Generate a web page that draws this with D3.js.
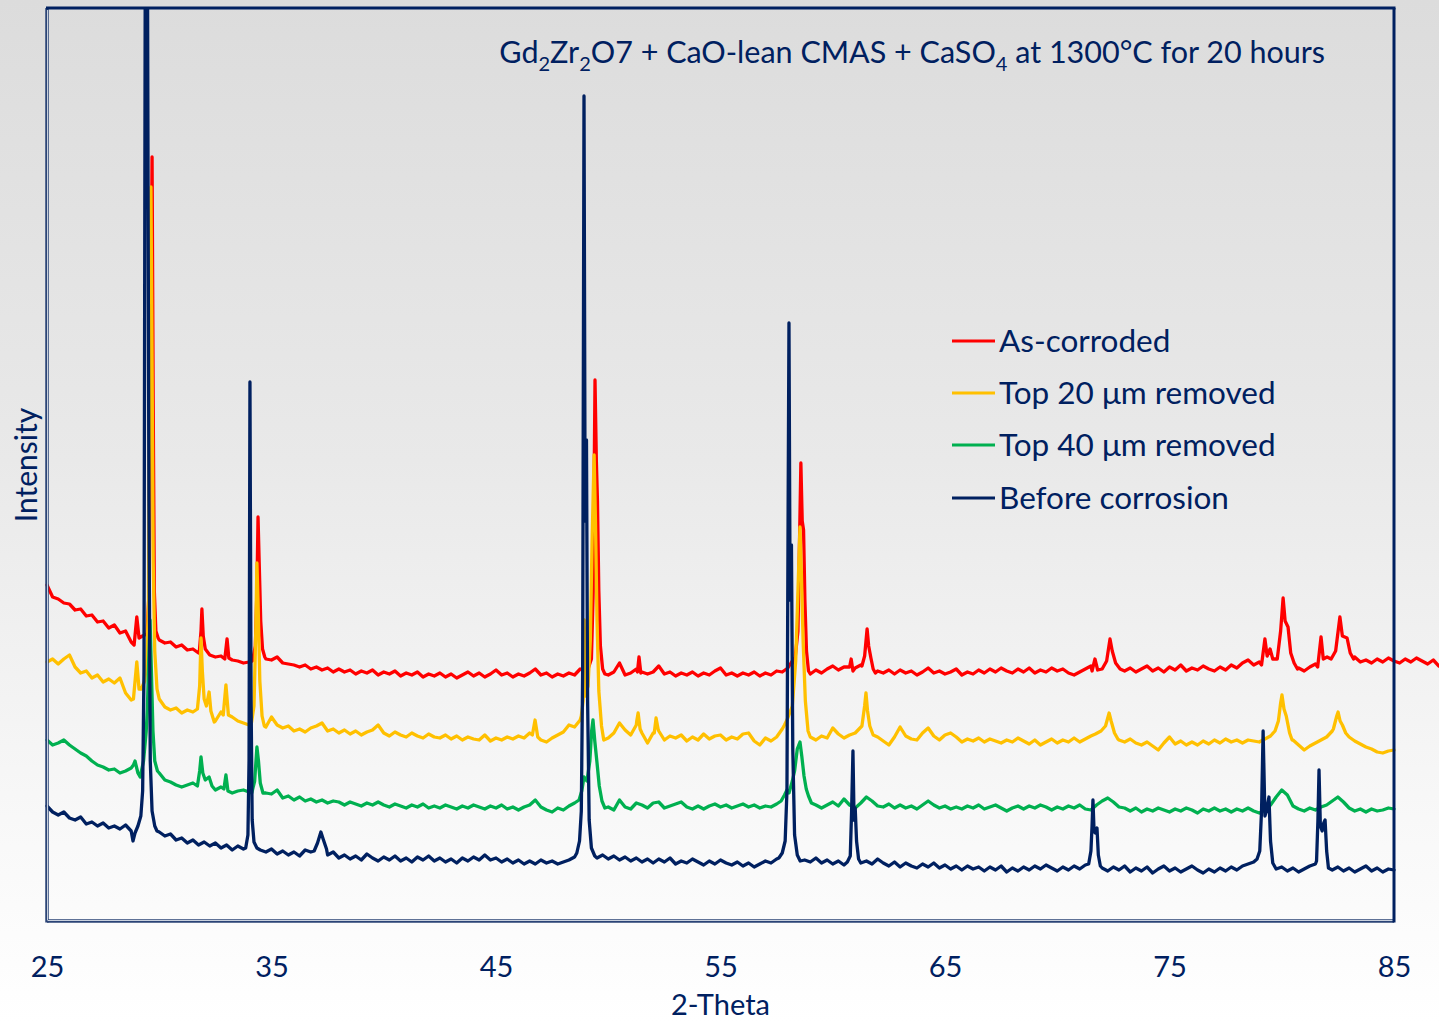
<!DOCTYPE html>
<html>
<head>
<meta charset="utf-8">
<script src="https://cdn.jsdelivr.net/npm/d3@7"></script>
<style>
  html, body { margin: 0; padding: 0; background: #ffffff; }
  svg { display: block; font-family: Lato, "Open Sans", sans-serif; }
</style>
</head>
<body>
<svg id="chart" width="1439" height="1022"></svg>
<script>
// ---- data -------------------------------------------------------------
// 2-theta tick labels
const xTicks = [25, 35, 45, 55, 65, 75, 85];
const seriesNames = ["As-corroded", "Top 20 \u03bcm removed", "Top 40 \u03bcm removed", "Before corrosion"];
const seriesColors = ["#ff0000", "#ffc000", "#00b050", "#002060"];

// background scans are sampled every 0.25 deg starting at 25 deg (intensity, a.u.)
const gridStart = 25, gridStep = 0.25;

const redBase = [
  336,324,322,318,317,311,312,305, 306,299,300,293,296,288,290,279,
  304,285,300,420,281,278,279,274, 276,271,272,268,276,266,264,265,
  282,261,260,258,259,270,295,262, 261,264,258,257,256,254,256,252,
  254,251,253,249,252,249,251,247, 250,248,251,246,249,247,250,245,
  248,246,249,244,247,245,248,244, 247,243,246,249,245,248,244,247,
  251,246,248,244,247,245,248,252, 246,248,244,247,245,248,246,252,
  251,262,400,252,246,249,258,246, 248,252,249,247,249,255,247,249,
  245,248,246,249,245,248,246,250, 253,246,248,245,248,246,249,245,
  248,246,250,249,253,262,350,300, 247,251,248,252,255,251,254,254,
  253,256,285,258,250,248,251,247, 251,248,250,246,249,253,248,250,
  247,249,252,246,249,247,251,248, 252,249,253,250,248,252,249,253,
  248,251,249,253,250,252,248,246, 249,252,255,255,252,265,262,253,
  250,253,249,252,255,250,253,249, 254,251,256,250,253,251,255,252,
  250,254,251,256,253,258,261,256, 259,282,270,262,315,296,262,253,
  250,254,257,284,264,262,285,284, 270,264,259,261,258,262,259,263,
  260,258,262,259,263,260,257,261, 255
];
// diffraction peaks: [2-theta, intensity]
const redPeaks = [
  [[28.88,276],[29.0,304],[29.1,283]],
  [[29.45,287],[29.55,330],[29.62,560],[29.68,764],[29.73,520],[29.78,330],[29.85,290],[29.95,283]],
  [[31.78,268],[31.86,290],[31.9,312],[31.96,285],[32.05,272]],
  [[32.92,262],[33.02,282],[33.1,263]],
  [[34.15,260],[34.28,275],[34.35,330],[34.4,404],[34.45,360],[34.52,300],[34.6,272],[34.7,264]],
  [[49.1,252],[49.25,262],[49.33,330],[49.41,541],[49.47,460],[49.52,420],[49.58,330],[49.65,275],[49.75,252],[49.85,247]],
  [[51.3,249],[51.37,264],[51.45,248]],
  [[58.3,258],[58.45,290],[58.52,380],[58.58,458],[58.64,400],[58.7,391],[58.76,320],[58.83,270],[58.92,250],[59.0,247]],
  [[60.75,254],[60.82,262],[60.9,250]],
  [[61.3,255],[61.42,265],[61.53,292],[61.6,275],[61.7,263],[61.8,252],[61.9,248]],
  [[71.55,250],[71.68,262],[71.8,251],[72.0,252],[72.2,260],[72.35,282],[72.45,270],[72.6,258],[72.8,252]],
  [[79.1,256],[79.25,282],[79.35,265],[79.48,272],[79.6,262],[79.8,262],[79.95,290],[80.06,323],[80.15,300],[80.28,294],[80.4,268],[80.55,258],[80.7,252]],
  [[81.6,254],[81.75,284],[81.85,262],[82.02,264],[82.2,262],[82.4,270],[82.59,304],[82.7,285],[82.91,283],[83.05,268],[83.2,262]]
];

const yellowBase = [
  259,262,257,262,266,254,248,250, 243,246,239,242,238,243,228,221,
  259,240,600,270,222,214,211,213, 208,211,209,235,222,229,200,209,
  206,204,200,198,196,215,240,194, 204,196,193,195,190,192,189,193,
  195,198,190,192,188,191,187,190, 186,189,191,196,188,185,189,186,
  184,188,185,183,187,184,183,186, 182,185,181,184,182,181,186,180,
  183,181,184,182,185,183,188,195, 181,179,183,186,189,196,194,201,
  225,290,300,195,183,188,198,191, 186,196,188,178,188,190,181,185,
  183,186,180,184,181,187,182,185, 186,181,184,182,187,188,180,176,
  183,180,184,192,205,260,330,220, 184,181,185,183,193,187,183,186,
  188,195,215,195,184,180,176,184, 194,185,182,181,188,193,185,181,
  186,188,184,179,182,180,183,179, 182,180,178,181,179,183,180,177,
  181,176,179,182,178,181,179,183, 179,182,185,187,190,200,195,181,
  179,182,178,176,179,175,171,178, 184,177,180,176,179,176,180,177,
  181,178,182,179,181,178,181,180, 179,182,185,190,222,206,181,176,
  171,175,178,181,184,190,205,196, 184,180,177,174,172,169,168,170,
  171
];
const yellowPeaks = [
  [[28.85,222],[29.0,259],[29.1,232],[29.2,232],[29.35,240],[29.45,262],[29.52,320],[29.58,600],[29.63,734],[29.68,560],[29.73,360],[29.8,270],[29.9,232],[30.0,222]],
  [[31.7,212],[31.8,235],[31.86,283],[31.92,250],[32.0,222],[32.1,215],[32.22,229],[32.3,210],[32.45,199]],
  [[32.85,206],[32.97,236],[33.08,206]],
  [[34.1,197],[34.22,215],[34.3,290],[34.35,358],[34.4,320],[34.48,240],[34.58,205],[34.68,195]],
  [[46.62,186],[46.74,201],[46.86,184]],
  [[48.8,205],[48.88,220],[48.93,301],[48.98,225],[49.1,235],[49.2,280],[49.28,380],[49.37,466],[49.43,400],[49.5,300],[49.58,230],[49.7,195],[49.8,181]],
  [[51.27,200],[51.33,208],[51.42,192]],
  [[52.05,188],[52.13,203],[52.22,192]],
  [[57.85,196],[57.98,202],[58.2,215],[58.35,260],[58.45,330],[58.54,394],[58.6,350],[58.68,280],[58.78,220],[58.9,190],[59.0,184]],
  [[61.0,188],[61.3,195],[61.42,215],[61.48,228],[61.55,210],[61.65,195],[61.8,186]],
  [[71.7,187],[71.95,190],[72.15,195],[72.31,208],[72.4,200],[72.55,188],[72.7,182]],
  [[79.7,190],[79.85,200],[79.95,218],[80.01,226],[80.1,212],[80.2,205],[80.35,188],[80.46,181]],
  [[82.3,192],[82.45,205],[82.51,209],[82.6,200],[82.7,196],[82.85,188],[83.0,184]]
];

const greenBase = [
  181,176,178,181,176,172,168,165, 160,156,154,151,152,148,150,153,
  150,170,280,170,148,141,139,136, 134,136,138,138,141,140,131,134,
  146,128,130,131,129,135,138,128, 127,131,123,125,121,124,120,122,
  119,121,118,120,119,116,119,117, 115,118,116,119,116,114,117,115,
  113,116,114,117,113,115,113,116, 114,112,115,113,116,114,112,115,
  113,116,112,114,111,114,116,121, 114,111,109,113,111,115,118,122,
  142,185,170,122,114,111,121,114, 112,118,116,113,118,119,113,115,
  117,119,114,112,115,112,115,117, 114,116,113,115,117,114,116,113,
  115,114,117,122,128,145,175,140, 118,116,113,116,119,115,122,116,
  113,118,124,120,115,114,117,113, 116,113,115,112,116,120,116,113,
  115,112,114,112,115,113,116,112, 114,116,113,110,113,115,112,115,
  113,116,114,111,114,112,115,113, 116,112,111,116,120,123,119,114,
  113,110,113,109,112,110,113,111, 109,112,110,113,111,108,112,110,
  113,110,112,109,112,110,113,110, 108,111,116,124,131,126,115,112,
  110,113,111,114,116,120,124,119, 113,110,112,109,112,110,111,113,
  112
];
const greenPeaks = [
  [[28.85,156],[28.92,160],[29.05,148],[29.15,144],[29.3,160],[29.42,190],[29.47,211],[29.53,260],[29.59,301],[29.65,250],[29.72,190],[29.8,160],[29.92,150]],
  [[31.7,135],[31.8,150],[31.86,164],[31.94,148],[32.05,141],[32.22,144],[32.35,135]],
  [[32.88,132],[32.97,146],[33.06,130]],
  [[34.12,128],[34.25,140],[34.35,174],[34.42,160],[34.5,138],[34.62,128]],
  [[48.7,121],[48.82,130],[48.92,144],[49.05,140],[49.18,160],[49.26,190],[49.32,201],[49.4,180],[49.5,158],[49.6,135],[49.72,120],[49.85,113]],
  [[57.7,120],[57.85,126],[57.96,131],[58.05,128],[58.2,140],[58.3,150],[58.42,172],[58.54,179],[58.62,165],[58.72,145],[58.82,132],[58.92,125],[59.05,118]]
];

const navyBase = [
  115,109,106,109,103,101,104,97, 99,95,98,93,95,92,96,90,
  95,130,1000,110,89,85,87,81, 83,78,81,76,79,75,78,73,
  76,71,75,72,161,79,71,69, 72,67,70,66,69,65,71,69,
  76,86,66,69,63,66,62,65, 61,67,63,60,64,61,65,60,
  63,59,64,61,65,60,63,59, 62,58,63,60,64,61,66,61,
  63,59,62,58,61,57,60,57, 61,58,60,57,59,61,64,80,
  400,100,63,66,62,65,61,64, 60,63,59,62,58,62,59,63,
  57,60,58,62,59,56,60,57, 61,58,56,59,55,58,54,57,
  60,58,62,68,500,86,60,61, 59,63,58,61,57,60,56,59,
  113,58,60,57,62,58,55,59, 54,58,55,53,57,54,58,53,
  56,52,55,51,55,52,54,50, 54,51,55,49,53,50,54,51,
  55,52,56,53,50,54,51,55, 52,56,57,90,53,50,54,51,
  55,49,53,50,54,48,52,55, 50,53,49,52,55,51,48,52,
  49,53,50,54,51,55,57,59, 110,110,80,52,54,50,53,49,
  52,55,57,90,70,51,54,50, 53,49,52,55,50,53,49,52,
  51
];
const navyPeaks = [
  [[28.83,80],[28.92,88],[29.05,95],[29.18,105],[29.26,130],[29.32,250],[29.38,1000],[29.47,1000],[29.54,420],[29.6,160],[29.68,110],[29.8,95],[29.9,90]],
  [[33.85,73],[33.95,86],[34.0,161],[34.04,539],[34.09,221],[34.14,101],[34.22,79],[34.35,73]],
  [[36.9,70],[37.05,78],[37.2,89],[37.3,82],[37.45,72]],
  [[48.6,68],[48.72,80],[48.8,110],[48.86,250],[48.92,825],[48.97,400],[49.03,481],[49.08,221],[49.15,101],[49.25,73],[49.4,65]],
  [[57.6,63],[57.75,68],[57.88,80],[57.96,130],[58.01,400],[58.05,598],[58.1,321],[58.16,376],[58.22,171],[58.3,86],[58.42,66],[58.55,60]],
  [[60.65,59],[60.78,65],[60.84,110],[60.9,170],[60.95,101],[61.0,113],[61.06,80],[61.15,62],[61.25,58]],
  [[71.4,57],[71.5,70],[71.55,95],[71.59,121],[71.64,90],[71.7,88],[71.77,93],[71.83,66],[71.92,55]],
  [[78.9,62],[79.02,70],[79.1,110],[79.17,190],[79.25,105],[79.32,110],[79.43,124],[79.5,80],[79.6,58],[79.75,52]],
  [[81.55,60],[81.61,100],[81.66,151],[81.72,95],[81.8,90],[81.87,98],[81.93,101],[82.0,70],[82.08,53]]
];

// ---- assemble each scan: background samples outside peak windows + peak points
function assemble(base, peaks) {
  const spans = peaks.map(p => [p[0][0], p[p.length - 1][0]]);
  const pts = base
    .map((v, i) => [gridStart + i * gridStep, v])
    .filter(([t]) => !spans.some(([a, b]) => t >= a - 1e-9 && t <= b + 1e-9));
  peaks.forEach(p => pts.push(...p));
  return pts.sort((a, b) => a[0] - b[0]);
}

const scans = [
  assemble(redBase, redPeaks),
  assemble(yellowBase, yellowPeaks),
  assemble(greenBase, greenPeaks),
  assemble(navyBase, navyPeaks)
];

// ---- layout -----------------------------------------------------------
const W = 1439, H = 1022;
const plot = { left: 47, right: 1394, top: 8, bottom: 921 };
const textColor = "#002060";

const svg = d3.select("#chart");
const defs = svg.append("defs");

const bg = defs.append("linearGradient").attr("id", "bgGrad")
  .attr("x1", 0).attr("y1", 0).attr("x2", 0).attr("y2", 1);
bg.append("stop").attr("offset", "0%").attr("stop-color", "#dcdcdc");
bg.append("stop").attr("offset", "45%").attr("stop-color", "#e9e9e9");
bg.append("stop").attr("offset", "80%").attr("stop-color", "#f8f8f8");
bg.append("stop").attr("offset", "100%").attr("stop-color", "#ffffff");

svg.append("rect").attr("width", W).attr("height", H).attr("fill", "url(#bgGrad)");

defs.append("clipPath").attr("id", "plotClip")
  .append("rect").attr("x", 0).attr("y", plot.top).attr("width", W).attr("height", plot.bottom - plot.top);

const x = d3.scaleLinear().domain([25, 85]).range([plot.left, plot.right]);
const y = d3.scaleLinear().domain([0, 913]).range([plot.bottom, plot.top]);

const line = d3.line().x(d => x(d[0])).y(d => y(d[1]));

const linesG = svg.append("g").attr("clip-path", "url(#plotClip)");
scans.forEach((pts, i) => {
  linesG.append("path")
    .datum(pts)
    .attr("d", line)
    .attr("fill", "none")
    .attr("stroke", seriesColors[i])
    .attr("stroke-width", 3.3)
    .attr("stroke-linejoin", "round")
    .attr("stroke-linecap", "round");
});

// ---- frame ------------------------------------------------------------
const frame = svg.append("g");
frame.append("line").attr("x1", plot.left).attr("x2", plot.left).attr("y1", plot.top).attr("y2", plot.bottom + 1.5)
  .attr("stroke", "#2b4476").attr("stroke-width", 3.5);
frame.append("line").attr("x1", plot.left).attr("x2", plot.right).attr("y1", plot.bottom).attr("y2", plot.bottom)
  .attr("stroke", "#2b4476").attr("stroke-width", 3.5);
frame.append("line").attr("x1", plot.left + 0.5).attr("x2", plot.left + 0.5).attr("y1", plot.top + 2).attr("y2", plot.bottom - 0.5)
  .attr("stroke", "#c9d1de").attr("stroke-width", 1);
frame.append("line").attr("x1", plot.left + 1).attr("x2", plot.right - 1).attr("y1", plot.bottom - 0.5).attr("y2", plot.bottom - 0.5)
  .attr("stroke", "#c9d1de").attr("stroke-width", 1);
frame.append("line").attr("x1", plot.left - 1).attr("x2", plot.right + 1.5).attr("y1", plot.top).attr("y2", plot.top)
  .attr("stroke", "#002060").attr("stroke-width", 3);
frame.append("line").attr("x1", plot.right).attr("x2", plot.right).attr("y1", plot.top).attr("y2", plot.bottom + 1.5)
  .attr("stroke", "#002060").attr("stroke-width", 3);

// ---- axes -------------------------------------------------------------
const xAxis = svg.append("g")
  .attr("transform", `translate(0,${plot.bottom})`)
  .call(d3.axisBottom(x).tickValues(xTicks).tickSize(0).tickFormat(d3.format("d")));
xAxis.select(".domain").remove();
xAxis.selectAll("text")
  .attr("y", 56).attr("dy", 0)
  .attr("fill", textColor)
  .style("font-family", "Lato, 'Open Sans', sans-serif")
  .style("font-size", "29px");

svg.append("text")
  .attr("x", (plot.left + plot.right) / 2).attr("y", 1015)
  .attr("text-anchor", "middle").attr("fill", textColor)
  .style("font-size", "29px").text("2-Theta");

svg.append("text")
  .attr("transform", "translate(37,465) rotate(-90)")
  .attr("text-anchor", "middle").attr("fill", textColor)
  .style("font-size", "30px").text("Intensity");

// ---- title ------------------------------------------------------------
const title = svg.append("text")
  .attr("x", 1325).attr("y", 63)
  .attr("text-anchor", "end").attr("fill", textColor)
  .style("font-size", "30.5px");
const titleParts = [
  ["Gd", false], ["2", true], ["Zr", false], ["2", true],
  ["O7 + CaO-lean CMAS + CaSO", false], ["4", true], [" at 1300\u00b0C for 20 hours", false]
];
let shifted = false;
titleParts.forEach(([t, sub]) => {
  const ts = title.append("tspan").text(t);
  if (sub) ts.style("font-size", "20px");
  if (sub && !shifted) { ts.attr("dy", 8); shifted = true; }
  else if (!sub && shifted) { ts.attr("dy", -8); shifted = false; }
});

// ---- legend -----------------------------------------------------------
const legendY = [341, 393, 445, 498];
const legend = svg.append("g");
seriesNames.forEach((name, i) => {
  legend.append("line")
    .attr("x1", 952).attr("x2", 995)
    .attr("y1", legendY[i]).attr("y2", legendY[i])
    .attr("stroke", seriesColors[i]).attr("stroke-width", 3);
  legend.append("text")
    .attr("x", 999).attr("y", legendY[i] + 11)
    .attr("fill", textColor)
    .style("font-size", "31.5px")
    .text(name);
});
</script>
</body>
</html>
